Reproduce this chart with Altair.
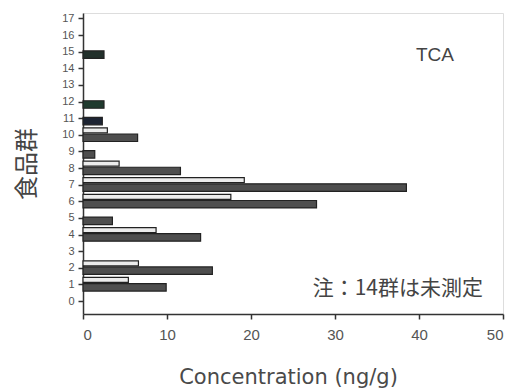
import altair as alt
import pandas as pd

# TCA concentration by food group (two surveys per group)
groups_light = [1, 2, 4, 6, 7, 8, 10]
values_light = [5.4, 6.6, 8.7, 17.6, 19.2, 4.3, 2.9]

groups_dark = [1, 2, 4, 5, 6, 7, 8, 9, 10, 11, 12, 15]
values_dark = [9.9, 15.4, 14.0, 3.5, 27.8, 38.5, 11.6, 1.4, 6.5, 2.3, 2.5, 2.5]

y_ticks = list(range(0, 18))
x_ticks = [0, 10, 20, 30, 40, 50]

# bar band (in group units) and fill per series
band = {"a": (0.42, 0.12), "b": (0.05, -0.40)}
fill_a = "#ececec"
fill_b = "#4e4e4e"
fill_special = {11: "#1d2433", 12: "#1f3a2e", 15: "#22302b"}

rows = []
for g, v in zip(groups_light, values_light):
    top, bot = band["a"]
    rows.append({"group": g, "value": v, "y1": g + top, "y2": g + bot, "fill": fill_a})
for g, v in zip(groups_dark, values_dark):
    top, bot = band["b"]
    rows.append({"group": g, "value": v, "y1": g + top, "y2": g + bot,
                 "fill": fill_special.get(g, fill_b)})
df = pd.DataFrame(rows)

x_scale = alt.Scale(domain=[0, 50], nice=False, zero=True)
y_scale = alt.Scale(domain=[-0.78, 17.33], nice=False, zero=False)

bars = alt.Chart(df).mark_bar(stroke="#222222", strokeWidth=1.2).encode(
    x=alt.X("value:Q", scale=x_scale,
            axis=alt.Axis(values=x_ticks, title="Concentration (ng/g)", grid=False,
                          labelFont="Liberation Sans", labelFontSize=15, labelColor="#555555",
                          labelPadding=8, tickSize=5, tickColor="#333333", tickWidth=1.5,
                          domainColor="#333333", domainWidth=1.5,
                          titleFont="DejaVu Sans", titleFontSize=21, titleFontWeight="normal",
                          titleColor="#4a4a4a", titleX=205, titleAlign="center",
                          titleY=63, titleBaseline="middle")),
    x2=alt.datum(0),
    y=alt.Y("y1:Q", scale=y_scale,
            axis=alt.Axis(values=y_ticks, title="食品群", grid=False, format="d",
                          labelFont="Liberation Sans", labelFontSize=11, labelColor="#555555",
                          labelPadding=4, tickSize=5, tickColor="#333333", tickWidth=1.5,
                          domainColor="#333333", domainWidth=1.5,
                          titleFont="Noto Sans CJK JP", titleFontSize=24, titleFontWeight="normal",
                          titleColor="#444444", titleX=-56, titleBaseline="middle")),
    y2="y2:Q",
    fill=alt.Fill("fill:N", scale=None),
)

label_tca = alt.Chart(pd.DataFrame({"t": ["TCA"]})).mark_text(
    font="Liberation Sans", fontSize=19, color="#444444", align="center", baseline="middle"
).encode(text="t:N", x=alt.value(352), y=alt.value(42))

label_note = alt.Chart(pd.DataFrame({"t": ["注：14群は未測定"]})).mark_text(
    font="Noto Sans CJK JP", fontSize=21, color="#444444", align="right", baseline="middle"
).encode(text="t:N", x=alt.value(400), y=alt.value(276))

chart = (bars + label_tca + label_note).properties(
    width=420, height=301,
    autosize=alt.AutoSizeParams(type="none"),
    padding={"left": 83, "top": 13, "right": 7, "bottom": 74},
).configure_view(stroke="#333333", strokeWidth=1.5).configure(background="white")

chart.save("out.html", embed_options={"renderer": "svg", "actions": False})
